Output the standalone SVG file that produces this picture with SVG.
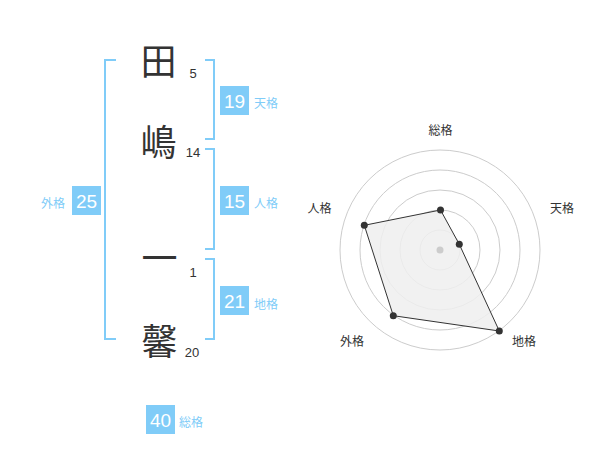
<svg xmlns="http://www.w3.org/2000/svg" width="600" height="470" viewBox="0 0 600 470">
<style>
.kanji{font-family:"Noto Sans CJK JP","Noto Sans CJK SC",sans-serif;font-size:36px;fill:#333;text-anchor:middle}
.num{font-family:"Liberation Sans",Arial,sans-serif;font-size:13px;fill:#333;text-anchor:middle}
.box{fill:#80ccf8}
.boxnum{font-family:"Liberation Sans",Arial,sans-serif;font-size:19px;fill:#fff;text-anchor:middle}
.lbl{font-family:"Liberation Sans","Noto Sans CJK JP",sans-serif;font-size:12px;fill:#80ccf8}
.br{fill:none;stroke:#80ccf8;stroke-width:2}
.ring{fill:none;stroke:#ccc;stroke-width:1}
.rl{font-family:"Liberation Sans","Noto Sans CJK JP",sans-serif;font-size:12px;fill:#333;text-anchor:middle}
.dot{fill:#333}
</style>
<g id="connectors">
<path class="br" d="M116,60 H105 V339 H116"/>
<path class="br" d="M205,60 H214 V139 H205"/>
<path class="br" d="M205,149 H214 V249 H205"/>
<path class="br" d="M205,259 H214 V339 H205"/>
</g>
<g id="char1"><text class="kanji" x="158.5" y="75">田</text><text class="num" x="193" y="78">5</text></g>
<g id="char2"><text class="kanji" x="158.5" y="156">嶋</text><text class="num" x="193" y="157">14</text></g>
<g id="char3"><text class="kanji" x="159.5" y="272">一</text><text class="num" x="193" y="277">1</text></g>
<g id="char4"><text class="kanji" x="159.5" y="355">馨</text><text class="num" x="192" y="357">20</text></g>
<g id="tenkaku"><rect class="box" x="220" y="86" width="29" height="29"/><text class="boxnum" x="234.5" y="107.5">19</text><text class="lbl" x="254" y="108">天格</text></g>
<g id="jinkaku"><rect class="box" x="220" y="186" width="29" height="29"/><text class="boxnum" x="234.5" y="207.5">15</text><text class="lbl" x="254" y="208">人格</text></g>
<g id="chikaku"><rect class="box" x="220" y="286" width="29" height="29"/><text class="boxnum" x="234.5" y="307.5">21</text><text class="lbl" x="254" y="309">地格</text></g>
<g id="gaikaku"><rect class="box" x="72" y="186" width="29" height="29"/><text class="boxnum" x="86.5" y="207.5">25</text><text class="lbl" x="41" y="208">外格</text></g>
<g id="soukaku"><rect class="box" x="146" y="405" width="29" height="29"/><text class="boxnum" x="160.5" y="426.5">40</text><text class="lbl" x="179" y="427">総格</text></g>
<g id="radar">
<circle class="ring" cx="440" cy="250" r="20"/>
<circle class="ring" cx="440" cy="250" r="40"/>
<circle class="ring" cx="440" cy="250" r="60"/>
<circle class="ring" cx="440" cy="250" r="80"/>
<circle class="ring" cx="440" cy="250" r="100"/>
<polygon points="440.5,210 459.3,244.3 499.3,331 393.3,315.7 364.3,225.3" fill="#eee" fill-opacity="0.85" stroke="#333" stroke-width="1"/>
<circle cx="440" cy="250" r="3.5" fill="#ccc"/>
<circle class="dot" cx="440.5" cy="210" r="3.5"/>
<circle class="dot" cx="459.3" cy="244.3" r="3.5"/>
<circle class="dot" cx="499.3" cy="331" r="3.5"/>
<circle class="dot" cx="393.3" cy="315.7" r="3.5"/>
<circle class="dot" cx="364.3" cy="225.3" r="3.5"/>
<text class="rl" x="440.5" y="135">総格</text>
<text class="rl" x="562" y="213">天格</text>
<text class="rl" x="524" y="346">地格</text>
<text class="rl" x="352" y="346">外格</text>
<text class="rl" x="319.5" y="213">人格</text>
</g>
</svg>
